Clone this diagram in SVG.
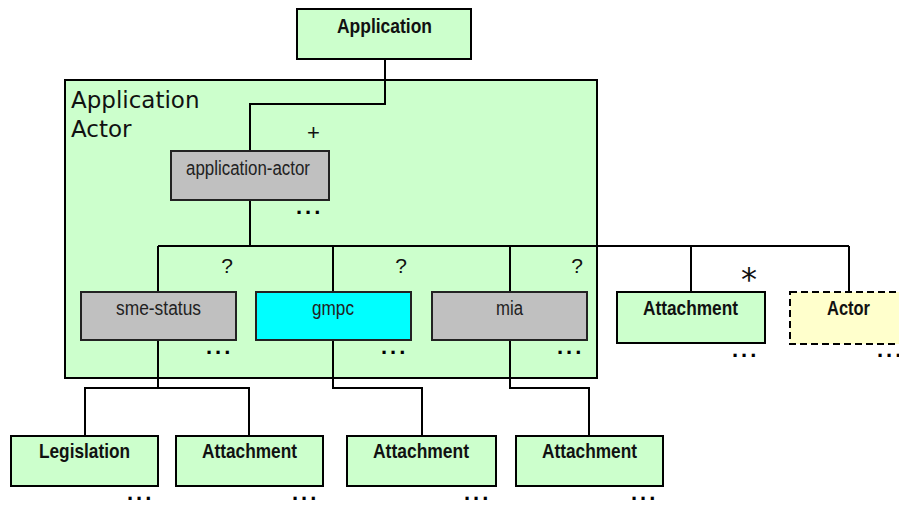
<svg xmlns="http://www.w3.org/2000/svg" width="899" height="505" viewBox="0 0 899 505">
<style>
.g{fill:#CCFFCC;stroke:#000;stroke-width:2}
.gr{fill:#C0C0C0;stroke:#222;stroke-width:2}
.cy{fill:#00FFFF;stroke:#222;stroke-width:2}
.y{fill:#FFFFCC;stroke:#000;stroke-width:2;stroke-dasharray:7 4}
.b{font-family:"Liberation Sans",Arial,sans-serif;font-weight:bold;font-size:21px;text-anchor:middle;fill:#111}
.n{font-family:"Liberation Sans",Arial,sans-serif;font-size:20px;text-anchor:middle;fill:#222}
.t{font-family:"DejaVu Sans",Verdana,sans-serif;font-size:23px;fill:#111}
.m{font-family:"Liberation Sans",Arial,sans-serif;font-size:21px;text-anchor:middle;fill:#111}
.d{font-family:"Liberation Sans",Arial,sans-serif;font-weight:bold;font-size:22px;letter-spacing:3px;fill:#000}
.c{fill:none;stroke:#000;stroke-width:2}
</style>
<g id="application-actor-container">
<rect x="65" y="80" width="532" height="298" class="g"/>
<text class="t" x="71" y="108">Application</text>
<text class="t" x="71" y="137">Actor</text>
</g>
<g id="connectors">
<polyline class="c" points="385,60 385,104 250,104 250,151"/>
<line class="c" x1="250" y1="200" x2="250" y2="246"/>
<line class="c" x1="158" y1="246" x2="849" y2="246"/>
<line class="c" x1="158" y1="246" x2="158" y2="292"/>
<line class="c" x1="333" y1="246" x2="333" y2="292"/>
<line class="c" x1="510" y1="246" x2="510" y2="292"/>
<line class="c" x1="691" y1="246" x2="691" y2="292"/>
<line class="c" x1="849" y1="246" x2="849" y2="292"/>
<line class="c" x1="158" y1="340" x2="158" y2="388"/>
<polyline class="c" points="85,436 85,388 249,388 249,436"/>
<polyline class="c" points="333,340 333,388 422,388 422,436"/>
<polyline class="c" points="510,340 510,388 589,388 589,436"/>
<text class="m" x="313.5" y="140" style="font-size:22px">+</text>
<text class="m" x="227" y="273">?</text>
<text class="m" x="401" y="273">?</text>
<text class="m" x="577" y="273">?</text>
<text class="m" x="749" y="290" style="font-family:'DejaVu Sans',sans-serif;font-size:32px">*</text>
</g>
<g id="application">
<rect x="297" y="9" width="174" height="50" class="g"/>
<text class="b" x="384.5" y="33" textLength="95" lengthAdjust="spacingAndGlyphs">Application</text>
</g>
<g id="application-actor">
<rect x="171" y="151" width="158" height="49" class="gr"/>
<text class="n" x="248" y="175" textLength="124" lengthAdjust="spacingAndGlyphs">application-actor</text>
<text class="d" x="296" y="214">...</text>
</g>
<g id="sme-status">
<rect x="81" y="292" width="155" height="48" class="gr"/>
<text class="n" x="158.5" y="315" textLength="85" lengthAdjust="spacingAndGlyphs">sme-status</text>
<text class="d" x="206" y="354">...</text>
</g>
<g id="gmpc">
<rect x="256" y="292" width="155" height="48" class="cy"/>
<text class="n" x="333" y="315" textLength="42" lengthAdjust="spacingAndGlyphs">gmpc</text>
<text class="d" x="381" y="354">...</text>
</g>
<g id="mia">
<rect x="432" y="292" width="155" height="48" class="gr"/>
<text class="n" x="509.5" y="315" textLength="27" lengthAdjust="spacingAndGlyphs">mia</text>
<text class="d" x="557" y="354">...</text>
</g>
<g id="attachment-right">
<rect x="617" y="292" width="148" height="51" class="g"/>
<text class="b" x="690.5" y="315" textLength="95" lengthAdjust="spacingAndGlyphs">Attachment</text>
<text class="d" x="732" y="357">...</text>
</g>
<g id="actor">
<rect x="790" y="292" width="120" height="52" class="y"/>
<text class="b" x="848.5" y="315" textLength="43" lengthAdjust="spacingAndGlyphs">Actor</text>
<text class="d" x="877" y="357">...</text>
</g>
<g id="legislation">
<rect x="11" y="436" width="147" height="50" class="g"/>
<text class="b" x="84.5" y="458" textLength="91" lengthAdjust="spacingAndGlyphs">Legislation</text>
<text class="d" x="127" y="500">...</text>
</g>
<g id="attachment-1">
<rect x="176" y="436" width="147" height="50" class="g"/>
<text class="b" x="249.5" y="458" textLength="95" lengthAdjust="spacingAndGlyphs">Attachment</text>
<text class="d" x="292" y="500">...</text>
</g>
<g id="attachment-2">
<rect x="347" y="436" width="149" height="50" class="g"/>
<text class="b" x="421" y="458" textLength="96" lengthAdjust="spacingAndGlyphs">Attachment</text>
<text class="d" x="464" y="500">...</text>
</g>
<g id="attachment-3">
<rect x="516" y="436" width="147" height="50" class="g"/>
<text class="b" x="589.5" y="458" textLength="95" lengthAdjust="spacingAndGlyphs">Attachment</text>
<text class="d" x="631" y="500">...</text>
</g>
</svg>
